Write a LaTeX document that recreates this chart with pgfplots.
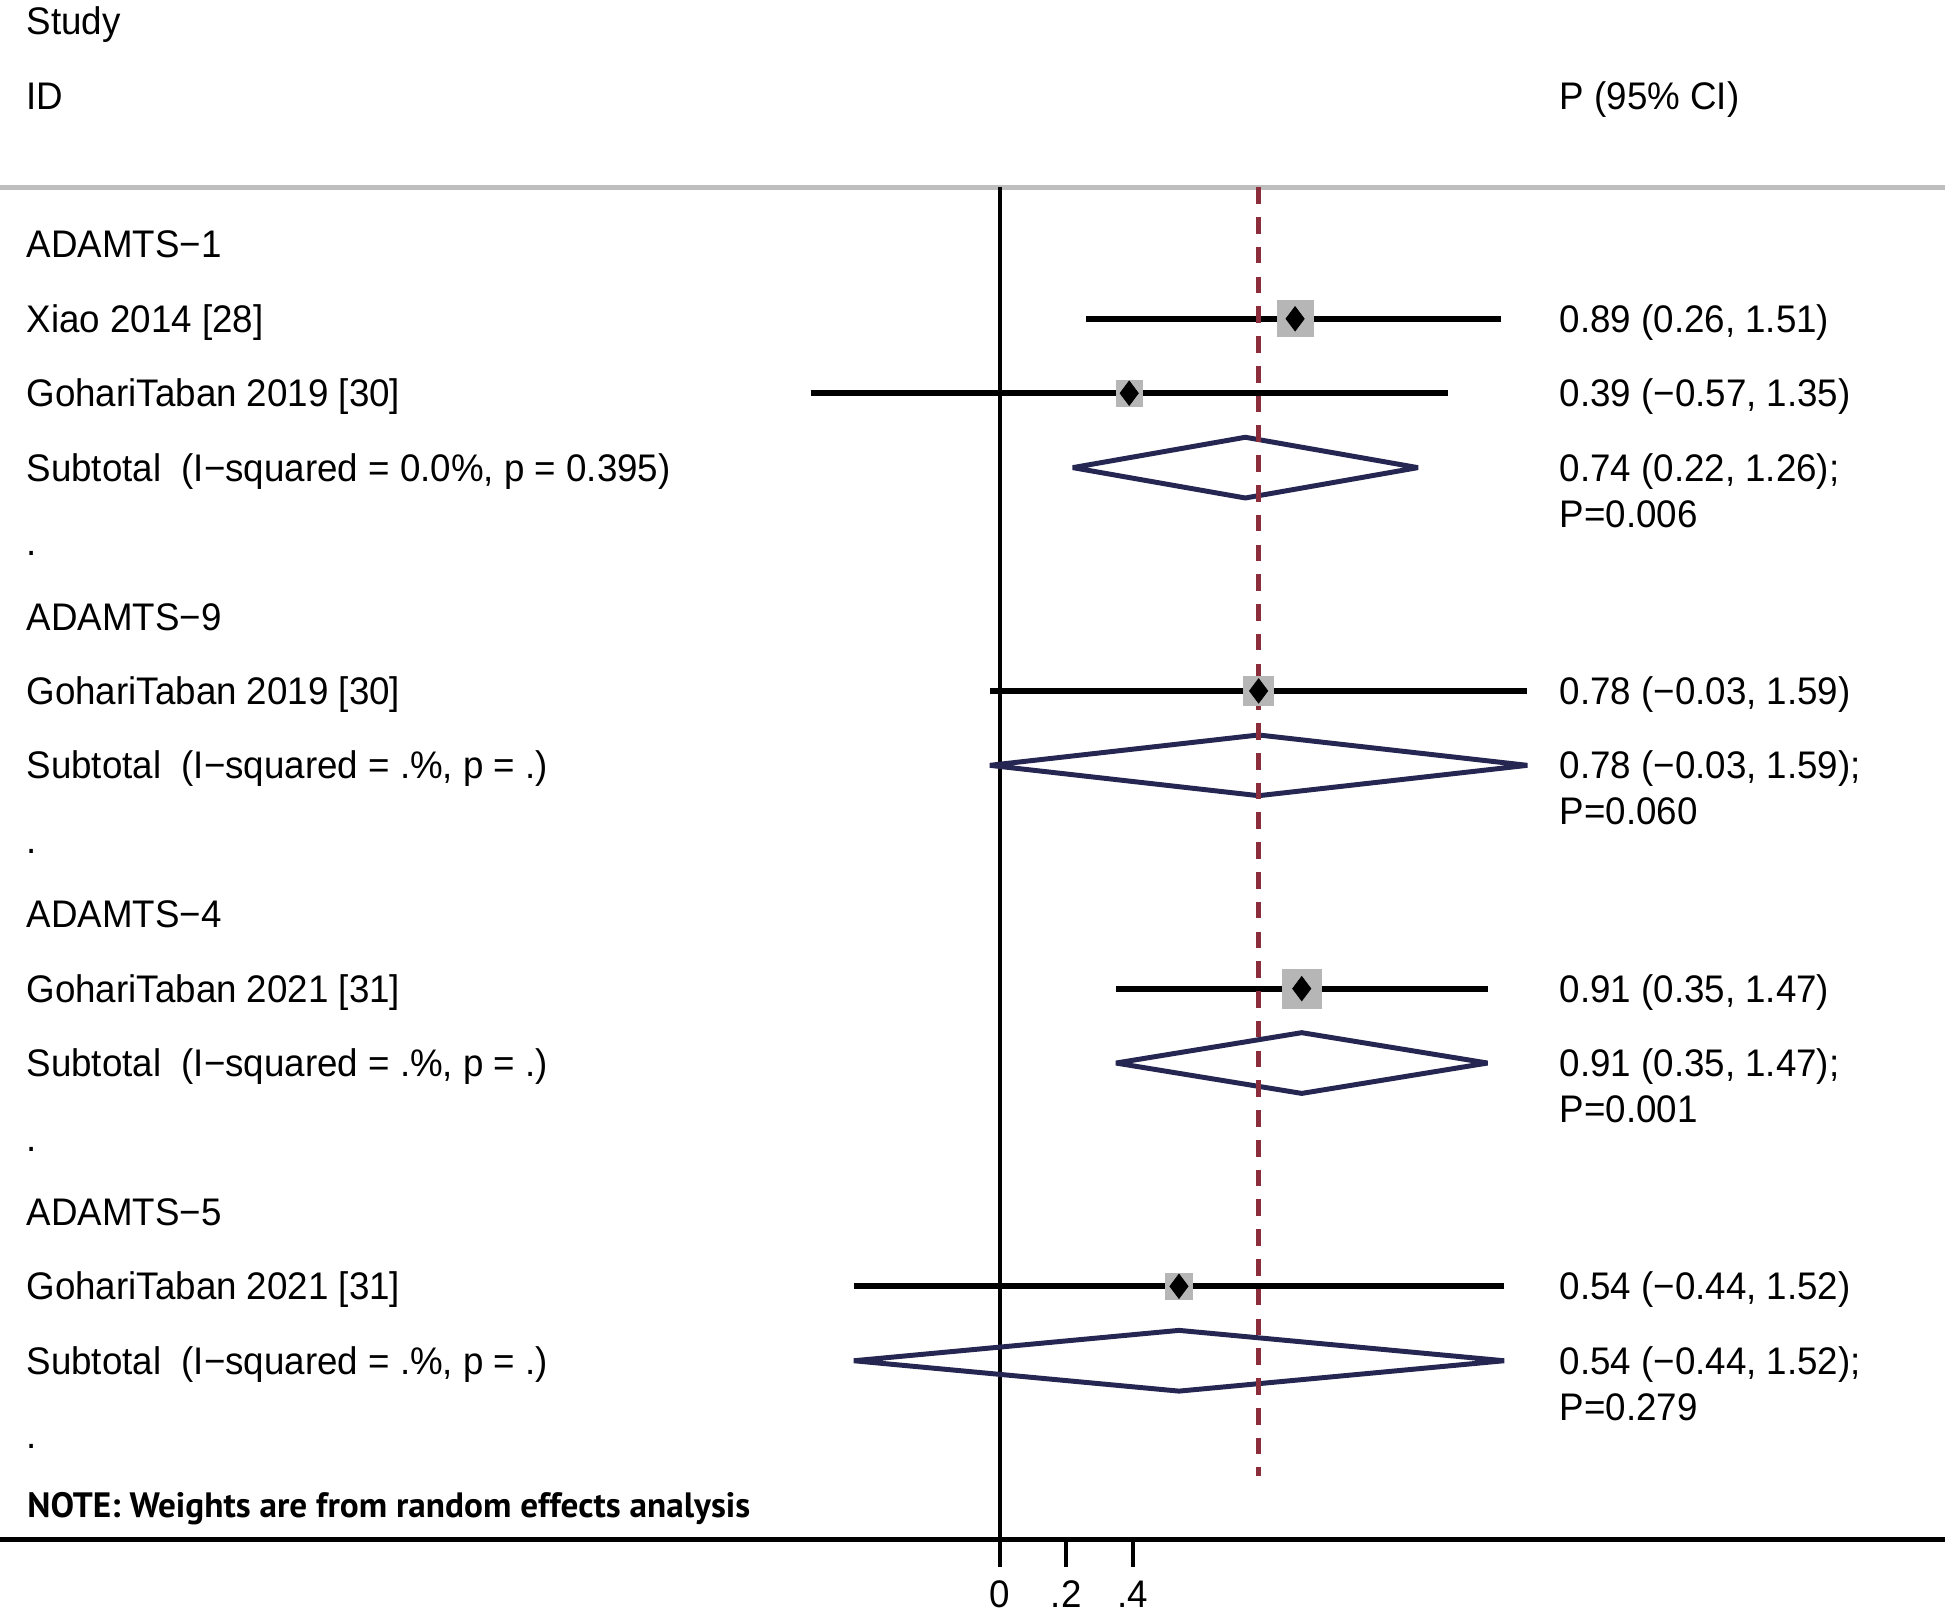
\documentclass[border=0pt]{standalone}
\usepackage{fontspec}
\setmainfont{Liberation Sans}[FakeStretch=0.955]
\newfontfamily\notefont{PT Sans}
\usepackage{pgfplots}
\usepackage{pgfplotstable}
\pgfplotsset{compat=1.18}
\definecolor{boxgray}{RGB}{182,182,182}
\definecolor{navy}{RGB}{38,38,82}
\definecolor{refred}{RGB}{140,45,60}
\definecolor{linegray}{RGB}{190,190,190}

\pgfplotstableread{
y est lo hi
4 0.89 0.26 1.51
5 0.39 -0.57 1.35
9 0.78 -0.03 1.59
13 0.91 0.35 1.47
17 0.54 -0.44 1.52
}\studies

\newcommand{\lt}[2]{\node[anchor=base west,inner sep=0pt] at (axis cs:-2.9345,#1) {#2};}
\newcommand{\rt}[2]{\node[anchor=base west,inner sep=0pt] at (axis cs:1.6860,#1) {#2};}

\begin{document}
\begin{tikzpicture}[font=\fontsize{15.5pt}{18pt}\selectfont]
\begin{axis}[
  scale only axis, width=784pt, height=652pt,
  xmin=-3.01308, xmax=2.84860, ymin=-0.28333, ymax=21.45, y dir=reverse,
  hide axis, clip=false,
]
% rules
\draw[linegray, line width=2pt] (axis cs:-3.01308,2.2333) -- (axis cs:2.84860,2.2333);
\draw[black, line width=2.1pt] (axis cs:-3.01308,20.4) -- (axis cs:2.84860,20.4);
\draw[black, line width=1.6pt] (axis cs:0,2.2333) -- (axis cs:0,20.767);
\draw[black, line width=1.6pt] (axis cs:0.2,20.4) -- (axis cs:0.2,20.767);
\draw[black, line width=1.6pt] (axis cs:0.4,20.4) -- (axis cs:0.4,20.767);
\node[anchor=base,inner sep=0pt] at (axis cs:0,21.32) {0};
\node[anchor=base,inner sep=0pt] at (axis cs:0.2,21.32) {.2};
\node[anchor=base,inner sep=0pt] at (axis cs:0.4,21.32) {.4};

% confidence intervals
\addplot[black, line width=2.5pt, forget plot] coordinates {(0.26,4) (1.51,4)};
\addplot[black, line width=2.5pt, forget plot] coordinates {(-0.57,5) (1.35,5)};
\addplot[black, line width=2.5pt, forget plot] coordinates {(-0.03,9) (1.59,9)};
\addplot[black, line width=2.5pt, forget plot] coordinates {(0.35,13) (1.47,13)};
\addplot[black, line width=2.5pt, forget plot] coordinates {(-0.44,17) (1.52,17)};

% subtotal diamonds
\addplot[navy, line width=2pt, line join=bevel, forget plot] coordinates {(0.22,6) (0.74,5.592) (1.26,6) (0.74,6.408)} -- cycle;
\addplot[navy, line width=2pt, line join=bevel, forget plot] coordinates {(-0.03,10) (0.78,9.592) (1.59,10) (0.78,10.408)} -- cycle;
\addplot[navy, line width=2pt, line join=bevel, forget plot] coordinates {(0.35,14) (0.91,13.592) (1.47,14) (0.91,14.408)} -- cycle;
\addplot[navy, line width=2pt, line join=bevel, forget plot] coordinates {(-0.44,18) (0.54,17.592) (1.52,18) (0.54,18.408)} -- cycle;

% overall dashed line
\addplot[refred, line width=2pt, dash pattern=on 6.7pt off 5.3pt, forget plot] coordinates {(0.78,2.2333) (0.78,19.55)};

% weight boxes
\addplot[boxgray, only marks, mark=square*, mark size=7.25pt, mark options={fill=boxgray, draw=boxgray, line width=0pt}, forget plot] coordinates {(0.89,4)};
\addplot[boxgray, only marks, mark=square*, mark size=5.25pt, mark options={fill=boxgray, draw=boxgray, line width=0pt}, forget plot] coordinates {(0.39,5)};
\addplot[boxgray, only marks, mark=square*, mark size=5.9pt, mark options={fill=boxgray, draw=boxgray, line width=0pt}, forget plot] coordinates {(0.78,9)};
\addplot[boxgray, only marks, mark=square*, mark size=7.9pt, mark options={fill=boxgray, draw=boxgray, line width=0pt}, forget plot] coordinates {(0.91,13)};
\addplot[boxgray, only marks, mark=square*, mark size=5.25pt, mark options={fill=boxgray, draw=boxgray, line width=0pt}, forget plot] coordinates {(0.54,17)};

% point estimates
\addplot[black, only marks, mark=diamond*, mark size=4.9pt, mark options={fill=black, draw=black, line width=0.3pt}, forget plot] table[x=est, y=y] {\studies};

% left column
\lt{0.183}{Study}
\lt{1.183}{ID}
\lt{3.183}{ADAMTS−1}
\lt{4.183}{Xiao 2014 [28]}
\lt{5.183}{GohariTaban 2019 [30]}
\lt{6.183}{Subtotal\ \ (I−squared = 0.0\%, p = 0.395)}
\lt{7.183}{.}
\lt{8.183}{ADAMTS−9}
\lt{9.183}{GohariTaban 2019 [30]}
\lt{10.183}{Subtotal\ \ (I−squared = .\%, p = .)}
\lt{11.183}{.}
\lt{12.183}{ADAMTS−4}
\lt{13.183}{GohariTaban 2021 [31]}
\lt{14.183}{Subtotal\ \ (I−squared = .\%, p = .)}
\lt{15.183}{.}
\lt{16.183}{ADAMTS−5}
\lt{17.183}{GohariTaban 2021 [31]}
\lt{18.183}{Subtotal\ \ (I−squared = .\%, p = .)}
\lt{19.183}{.}
\node[anchor=base west,inner sep=0pt,font=\notefont\bfseries\fontsize{14.2pt}{17pt}\selectfont] at (axis cs:-2.932,20.1) {NOTE: Weights are from random effects analysis};

% right column
\rt{1.183}{P (95\% CI)}
\rt{4.183}{0.89 (0.26, 1.51)}
\rt{5.183}{0.39 (−0.57, 1.35)}
\rt{6.183}{0.74 (0.22, 1.26);}
\rt{6.8}{P=0.006}
\rt{9.183}{0.78 (−0.03, 1.59)}
\rt{10.183}{0.78 (−0.03, 1.59);}
\rt{10.8}{P=0.060}
\rt{13.183}{0.91 (0.35, 1.47)}
\rt{14.183}{0.91 (0.35, 1.47);}
\rt{14.8}{P=0.001}
\rt{17.183}{0.54 (−0.44, 1.52)}
\rt{18.183}{0.54 (−0.44, 1.52);}
\rt{18.8}{P=0.279}
\end{axis}
\pgfresetboundingbox
\useasboundingbox (current axis.south west) rectangle (current axis.north east);
\end{tikzpicture}
\end{document}
